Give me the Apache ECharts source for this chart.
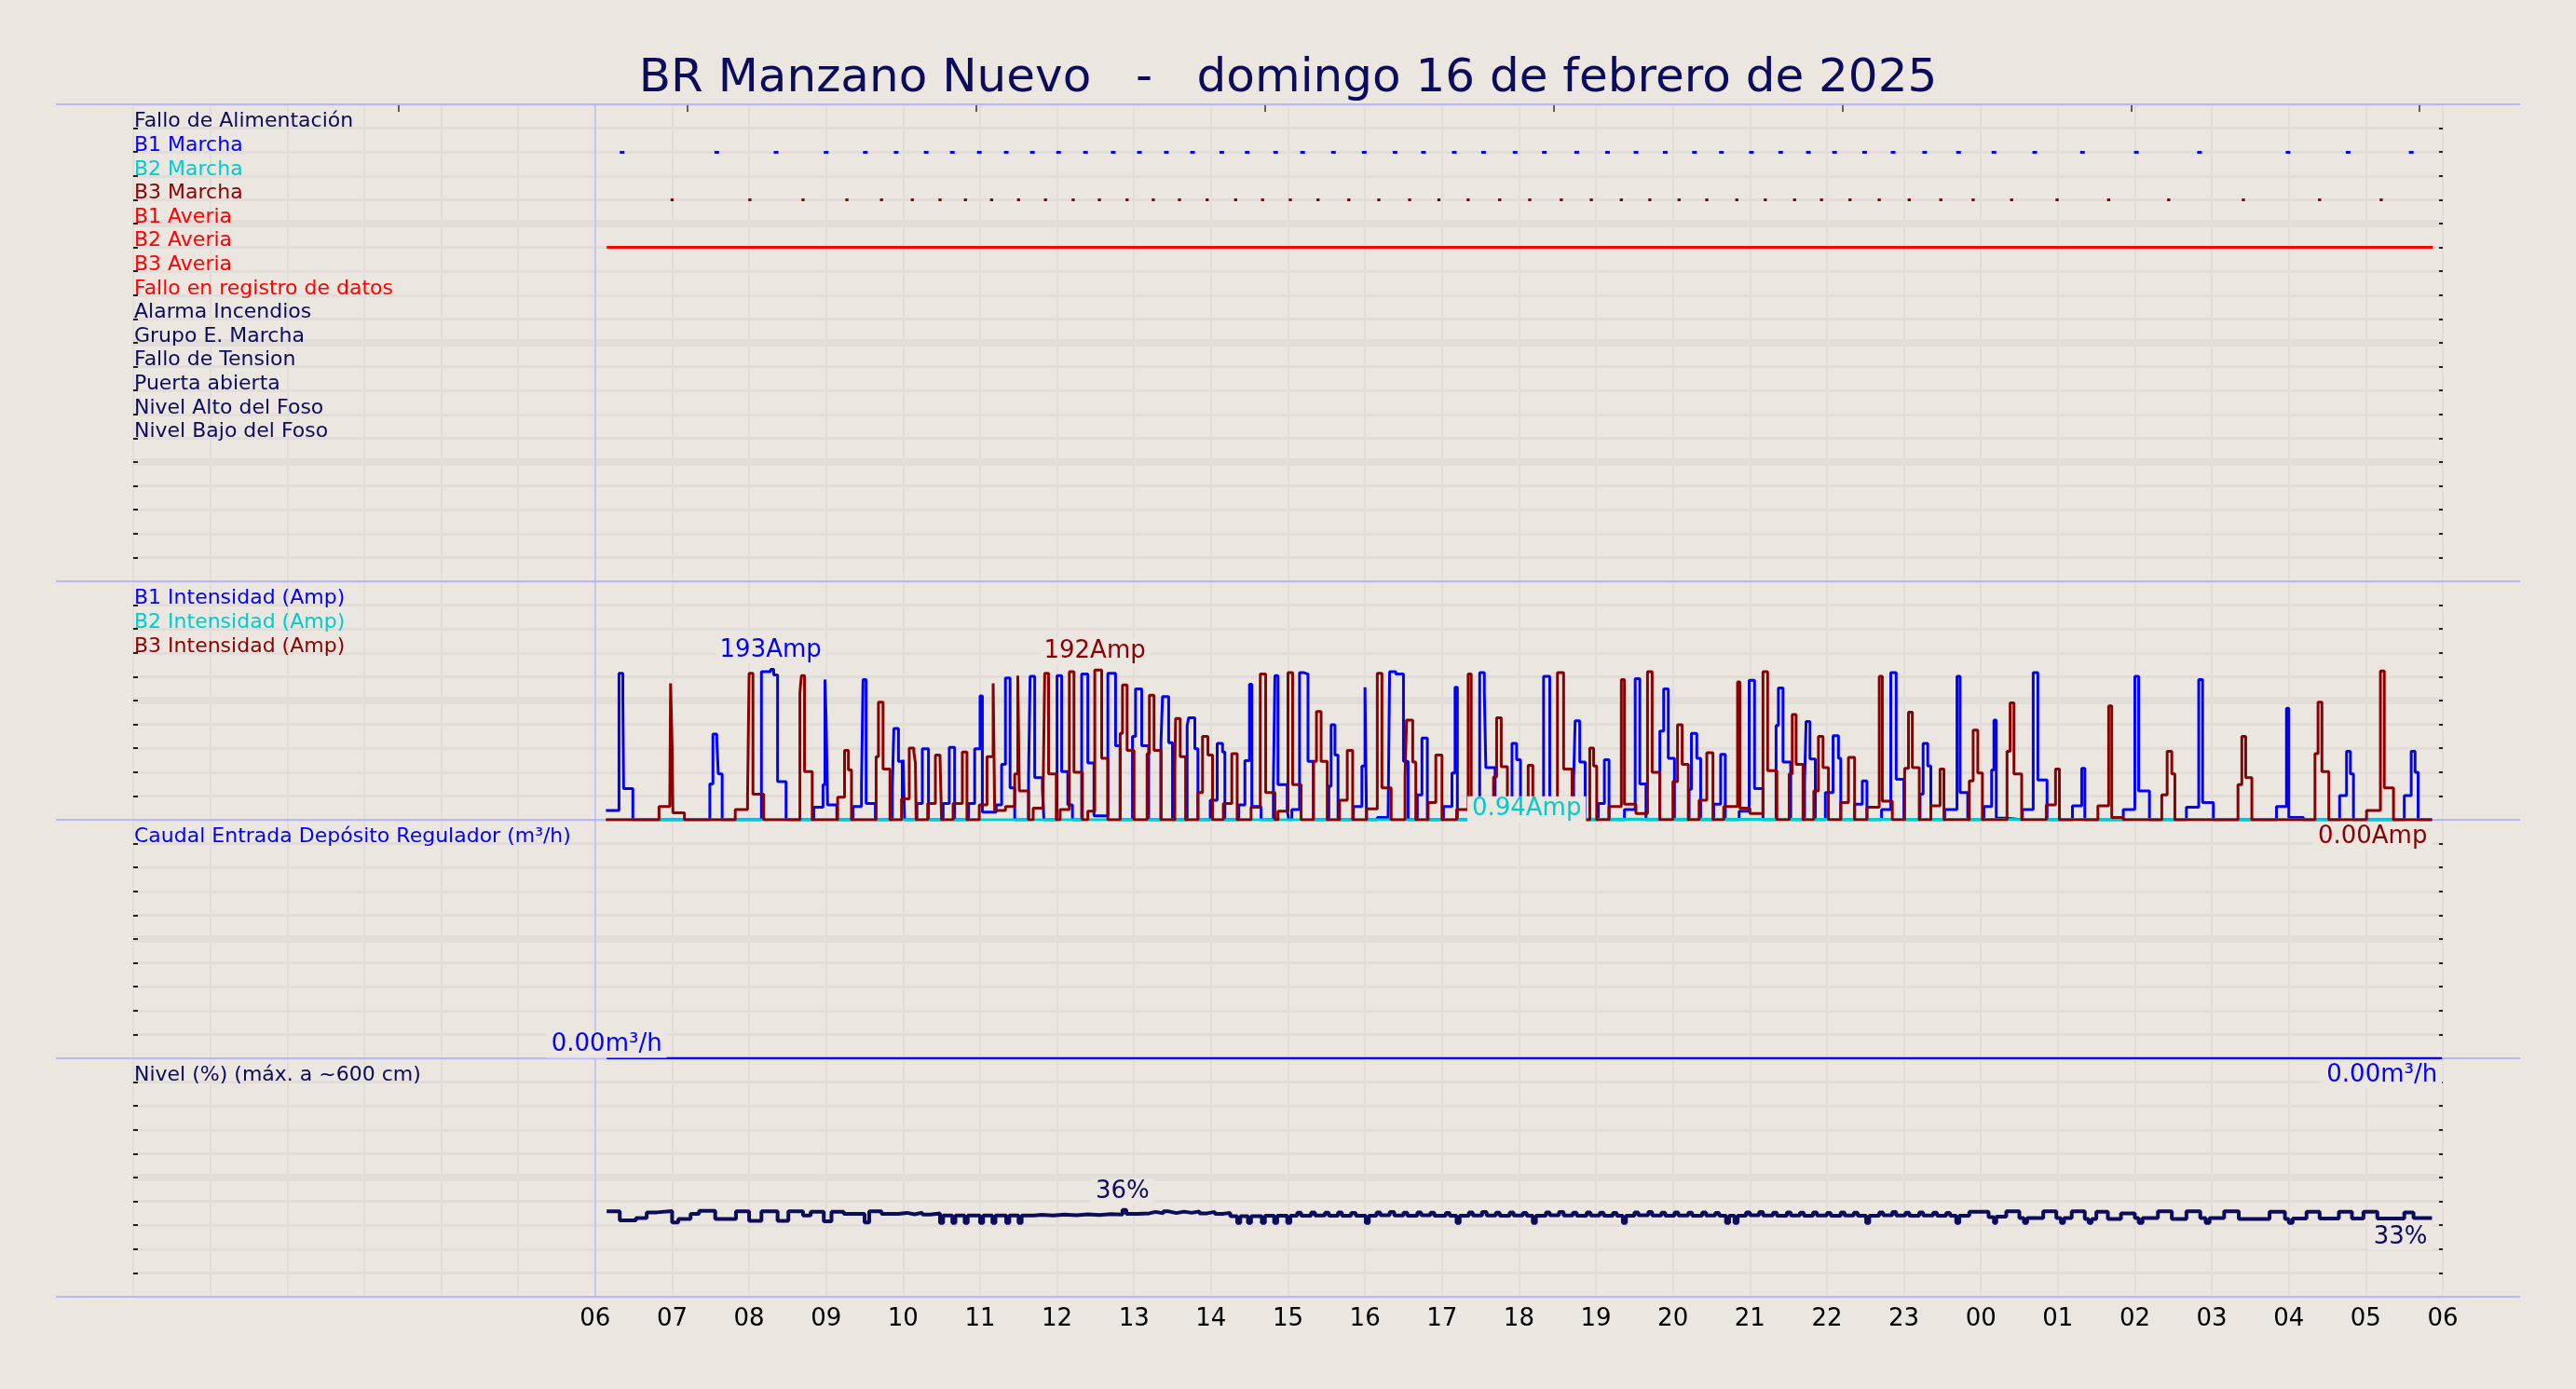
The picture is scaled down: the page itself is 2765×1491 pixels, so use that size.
<!DOCTYPE html>
<html><head><meta charset="utf-8">
<script src="https://cdn.jsdelivr.net/npm/echarts@6/dist/echarts.min.js"></script>
<style>html,body{margin:0;padding:0;background:#ebe6e0}#c{width:2765px;height:1491px}</style>
</head><body><div id="c"></div>
<script>
// ---------------- DATA ----------------
const chartTitle = 'BR Manzano Nuevo   -   domingo 16 de febrero de 2025';
const signalNames = ['Fallo de Alimentación','B1 Marcha','B2 Marcha','B3 Marcha','B1 Averia','B2 Averia','B3 Averia','Fallo en registro de datos','Alarma Incendios','Grupo E. Marcha','Fallo de Tension','Puerta abierta','Nivel Alto del Foso','Nivel Bajo del Foso'];
const ampNames = ['B1 Intensidad (Amp)','B2 Intensidad (Amp)','B3 Intensidad (Amp)'];
const flowName = ['Caudal Entrada Depósito Regulador (m³/h)'];
const levelName = ['Nivel (%) (máx. a ~600 cm)'];
const hourLabels = ['06','07','08','09','10','11','12','13','14','15','16','17','18','19','20','21','22','23','00','01','02','03','04','05','06'];
const topTickHours = [3.45, 7.2, 10.95, 14.7, 18.45, 22.2, 25.95, 29.7];

// digital signals: on-periods [start, end] in hours since 00:00
const b1MarchaOn = [[6.32,6.38],[7.55,7.61],[8.32,8.38],[8.97,9.03],[9.48,9.54],[9.88,9.94],[10.27,10.33],[10.61,10.67],[10.96,11.02],[11.31,11.37],[11.65,11.71],[11.99,12.05],[12.34,12.40],[12.70,12.76],[13.04,13.10],[13.39,13.45],[13.73,13.79],[14.11,14.17],[14.44,14.50],[14.81,14.87],[15.16,15.22],[15.56,15.62],[15.96,16.02],[16.36,16.42],[16.73,16.79],[17.13,17.19],[17.51,17.57],[17.92,17.98],[18.30,18.36],[18.72,18.78],[19.12,19.18],[19.49,19.55],[19.87,19.93],[20.25,20.31],[20.60,20.66],[20.99,21.05],[21.37,21.43],[21.73,21.79],[22.07,22.13],[22.46,22.52],[22.83,22.89],[23.24,23.30],[23.68,23.74],[24.14,24.20],[24.67,24.73],[25.29,25.35],[25.99,26.05],[26.81,26.87],[27.96,28.02],[28.74,28.80],[29.56,29.62]];
const b3MarchaOn = [[6.98,7.02],[7.99,8.03],[8.68,8.72],[9.25,9.29],[9.70,9.74],[10.10,10.14],[10.46,10.50],[10.79,10.83],[11.13,11.17],[11.48,11.52],[11.83,11.87],[12.19,12.23],[12.53,12.57],[12.89,12.93],[13.23,13.27],[13.57,13.61],[13.93,13.97],[14.30,14.34],[14.65,14.69],[15.01,15.05],[15.37,15.41],[15.77,15.81],[16.16,16.20],[16.56,16.60],[16.94,16.98],[17.32,17.36],[17.73,17.77],[18.12,18.16],[18.53,18.57],[18.92,18.96],[19.31,19.35],[19.68,19.72],[20.06,20.10],[20.42,20.46],[20.81,20.85],[21.18,21.22],[21.56,21.60],[21.91,21.95],[22.28,22.32],[22.66,22.70],[23.05,23.09],[23.46,23.50],[23.88,23.92],[24.38,24.42],[24.97,25.01],[25.64,25.68],[26.42,26.46],[27.39,27.43],[28.38,28.42],[29.18,29.22]];
const b2AveriaOn = [[6.15,29.87]];

// pump currents (Amp), step values [hour, amps]
const b1Amps = [[6.14,12],[6.31,188],[6.36,155],[6.37,40],[6.49,0],
[7.49,46],[7.53,110],[7.58,102],[7.60,59],[7.65,0],
[8.16,190],[8.28,193],[8.32,186],[8.37,49],[8.48,0],
[8.84,16],[8.96,45],[8.985,180],[9.0,130],[9.02,19],[9.14,0],
[9.35,17],[9.46,46],[9.48,180],[9.52,21],[9.64,0],
[9.86,39],[9.88,117],[9.94,75],[9.99,27],[10.0,77],[10.02,0],
[10.18,21],[10.25,91],[10.33,0],
[10.52,21],[10.6,93],[10.67,0],
[10.85,21],[10.93,91],[11.0,159],[11.03,10],[11.21,19],[11.28,71],[11.33,182],[11.39,41],[11.45,0],
[11.63,55],[11.65,184],[11.71,54],[11.81,38],[11.83,0],
[12.0,185],[12.06,62],[12.14,19],[12.2,0],
[12.32,187],[12.4,73],[12.48,5],[12.66,188],[12.76,95],[12.82,0],
[12.98,107],[13.02,168],[13.1,95],[13.19,0],
[13.35,99],[13.37,158],[13.45,99],[13.5,0],
[13.69,121],[13.71,131],[13.79,91],[13.83,0],
[13.99,25],[14.08,98],[14.15,87],[14.18,0],
[14.36,19],[14.44,76],[14.5,174],[14.53,17],[14.65,0],
[14.81,45],[14.83,185],[14.87,45],[14.99,13],[15.01,0],[15.05,13],[15.15,189],[15.2,187],[15.26,75],[15.33,0],
[15.53,43],[15.56,122],[15.61,83],[15.65,0],
[15.85,17],[15.96,69],[16.0,170],[16.02,0],[16.16,3],[16.3,0],
[16.32,190],[16.4,187],[16.5,75],[16.56,0],
[16.68,32],[16.74,105],[16.81,0],
[17.02,17],[17.13,60],[17.17,170],[17.2,0],
[17.36,2],[17.49,189],[17.55,165],[17.57,67],[17.69,0],
[17.91,98],[17.97,77],[18.02,0],
[18.32,184],[18.4,0],
[18.71,51],[18.73,127],[18.79,74],[18.86,0],
[19.03,21],[19.11,77],[19.17,0],
[19.37,13],[19.51,181],[19.57,46],[19.65,0],
[19.83,114],[19.88,168],[19.94,79],[20.02,0],
[20.21,39],[20.24,111],[20.31,79],[20.36,0],
[20.53,20],[20.62,84],[20.68,0],
[20.86,11],[20.99,179],[21.06,40],[21.17,0],
[21.34,121],[21.37,169],[21.43,74],[21.53,0],
[21.71,49],[21.73,126],[21.78,78],[21.85,0],
[21.98,35],[22.08,108],[22.15,79],[22.18,0],
[22.36,20],[22.46,50],[22.52,0],
[22.71,13],[22.83,189],[22.9,52],[23.0,0],
[23.21,33],[23.25,98],[23.31,69],[23.35,0],
[23.53,13],[23.69,184],[23.73,35],[23.83,0],
[24.04,17],[24.14,64],[24.17,128],[24.2,2],[24.34,0],
[24.54,13],[24.68,189],[24.74,51],[24.86,0],
[25.19,18],[25.31,66],[25.35,0],
[25.85,13],[26.0,184],[26.05,37],[26.19,0],
[26.67,16],[26.83,180],[26.88,22],[27.02,0],
[27.84,17],[27.97,143],[28.0,3],[28.19,0],
[28.66,31],[28.75,88],[28.8,59],[28.84,0],
[29.5,31],[29.59,88],[29.64,61],[29.68,0],[29.86,0]];
const b2Amps = [[6.14,0],[18.1,0.94],[18.3,0],[29.86,0]];
const b3Amps = [[6.14,0],[6.83,17],[6.97,23],[6.98,175],[7.0,95],[7.01,9],[7.16,0],
[7.82,13],[7.98,31],[8.0,188],[8.05,33],[8.19,0],
[8.66,163],[8.67,175],[8.68,185],[8.72,62],[8.82,0],
[9.15,29],[9.24,89],[9.29,64],[9.33,0],
[9.65,81],[9.68,151],[9.74,65],[9.83,0],
[9.98,27],[10.08,92],[10.14,87],[10.16,73],[10.17,0],
[10.32,21],[10.42,83],[10.48,79],[10.5,0],
[10.65,21],[10.77,87],[10.83,0],
[10.99,19],[11.09,81],[11.17,175],[11.19,12],[11.33,17],[11.45,59],[11.49,185],[11.51,37],[11.63,0],
[11.69,15],[11.82,43],[11.84,188],[11.89,59],[11.99,0],
[12.04,13],[12.16,190],[12.22,61],[12.33,0],
[12.40,11],[12.49,192],[12.58,79],[12.66,0],
[12.82,111],[12.85,173],[12.91,89],[13.0,0],
[13.17,85],[13.2,160],[13.26,89],[13.35,0],
[13.53,67],[13.54,130],[13.60,81],[13.67,0],
[13.83,35],[13.89,107],[13.96,83],[14.02,0],
[14.16,21],[14.27,85],[14.34,0],
[14.52,16],[14.64,187],[14.71,35],[14.83,0],
[14.87,11],[15.0,189],[15.06,45],[15.17,0],
[15.33,75],[15.37,139],[15.43,75],[15.51,0],
[15.67,25],[15.77,89],[15.84,0],
[16.02,14],[16.16,188],[16.22,41],[16.34,0],
[16.52,55],[16.54,128],[16.62,74],[16.66,0],
[16.82,22],[16.92,83],[17.0,0],
[17.19,13],[17.34,187],[17.38,0],
[17.67,55],[17.71,131],[17.77,68],[17.85,0],
[18.12,70],[18.18,0],
[18.5,189],[18.58,65],[18.69,0],
[18.92,92],[18.97,69],[19.01,0],
[19.17,17],[19.33,180],[19.37,20],[19.52,8],[19.67,190],[19.73,61],[19.83,0],
[20.0,49],[20.06,122],[20.12,71],[20.2,0],
[20.34,25],[20.44,86],[20.52,0],
[20.66,17],[20.84,177],[20.87,15],[21.0,8],[21.17,190],[21.23,63],[21.35,0],
[21.51,59],[21.55,135],[21.6,71],[21.69,0],
[21.83,37],[21.89,107],[21.95,67],[22.02,0],
[22.18,22],[22.28,80],[22.36,0],
[22.52,16],[22.68,184],[22.72,24],[22.85,0],
[23.01,66],[23.06,138],[23.11,67],[23.2,0],
[23.35,18],[23.47,65],[23.52,0],
[23.85,50],[23.9,115],[23.96,60],[24.02,0],
[24.34,88],[24.38,150],[24.43,59],[24.53,0],
[24.85,19],[24.97,65],[25.02,0],
[25.52,18],[25.66,146],[25.7,3],[25.85,0],
[26.35,32],[26.42,88],[26.48,59],[26.52,0],
[27.34,45],[27.39,107],[27.44,54],[27.52,0],
[28.34,85],[28.38,151],[28.43,62],[28.52,0],
[29.01,12],[29.19,191],[29.24,41],[29.36,0],[29.86,0]];

// inflow (m3/h)
const flowM3h = [[6.15,0],[29.99,0]];

// level (%)
const levelPct = [[6.15,35.8],[6.32,32.0],[6.53,33.0],[6.67,35.4],[6.80,35.9],[7.0,31.2],[7.08,32.6],[7.24,34.8],[7.35,36.0],[7.56,32.6],[7.83,35.8],[8.0,31.8],[8.16,35.8],[8.37,31.8],[8.51,35.8],[8.70,34.1],[8.80,35.6],[8.97,31.6],[9.07,35.6],[9.23,34.8],[9.50,31.2],[9.56,35.8],[9.72,34.8],
[9.94,35.2],[10.05,34.6],[10.15,35.3],[10.25,34.5],[10.35,35.0],
[10.48,31.0],[10.52,34.1],[10.64,31.0],[10.68,34.1],[10.80,31.0],[10.84,34.1],[11.0,31.0],[11.04,34.1],[11.16,31.0],[11.2,34.1],[11.34,31.0],[11.38,34.1],[11.5,31.0],[11.54,34.1],
[11.7,34.4],[11.8,34.1],[11.95,34.5],[12.1,34.2],[12.25,34.6],[12.4,34.3],[12.55,34.7],[12.7,34.5],[12.85,36.4],[12.9,34.8],[13.05,35.0],[13.2,35.6],[13.28,35.0],[13.38,35.8],[13.45,35.1],[13.55,35.7],[13.65,35.2],[13.75,35.8],[13.85,35.0],[13.95,35.6],[14.05,34.8],[14.15,35.2],
[14.25,33.8],[14.34,31.0],[14.38,33.8],[14.48,31.0],[14.52,33.8],[14.66,31.0],[14.7,34.0],[14.82,31.0],[14.86,34.0],[14.99,31.0],[15.03,34.0],
[15.12,35.3],[15.17,34.0],[15.3,35.4],[15.35,34.1],[15.48,35.3],[15.53,34.0],[15.65,35.4],[15.7,34.0],[15.82,35.2],[15.88,34.0],[16.01,31.0],[16.05,34.0],[16.15,35.4],[16.2,34.2],[16.32,35.5],[16.38,34.1],[16.5,35.3],[16.55,34.0],[16.68,35.4],[16.73,34.2],[16.85,35.3],[16.9,34.0],[17.05,35.2],[17.1,34.0],[17.19,31.0],[17.23,34.0],[17.35,35.4],[17.4,34.1],[17.52,35.5],[17.58,34.1],[17.7,35.3],[17.75,34.0],[17.88,35.4],[17.93,34.1],[18.05,35.2],[18.1,34.0],[18.18,31.0],[18.22,34.0],[18.35,35.4],[18.4,34.2],[18.52,35.5],[18.58,34.1],[18.7,35.3],[18.75,34.0],[18.88,35.4],[18.93,34.1],[19.05,35.3],[19.1,34.0],[19.22,35.2],[19.27,34.0],[19.35,31.0],[19.39,34.0],[19.5,35.4],[19.55,34.2],[19.68,35.5],[19.73,34.1],[19.85,35.3],[19.9,34.0],[20.02,35.4],[20.07,34.1],[20.2,35.3],[20.25,34.0],[20.38,35.4],[20.43,34.1],[20.55,35.2],[20.6,34.0],[20.69,31.0],[20.73,34.0],[20.8,31.0],[20.84,34.0],[20.95,35.4],[21.0,34.2],[21.12,35.5],[21.17,34.1],[21.3,35.3],[21.35,34.0],[21.48,35.4],[21.53,34.1],[21.65,35.3],[21.7,34.0],[21.82,35.4],[21.87,34.1],[22.0,35.2],[22.05,34.0],[22.18,35.4],[22.23,34.1],[22.35,35.3],[22.4,34.0],[22.51,31.0],[22.55,34.0],[22.68,35.4],[22.73,34.2],[22.85,35.5],[22.9,34.1],[23.02,35.3],[23.07,34.0],[23.2,35.4],[23.25,34.1],[23.38,35.3],[23.43,34.0],[23.55,35.2],[23.6,34.0],[23.68,31.0],[23.72,34.0],
[23.85,35.6],[24.1,33.4],[24.17,31.0],[24.2,33.6],[24.33,35.8],[24.5,33.0],[24.56,31.0],[24.6,33.0],[24.81,35.8],[24.98,33.0],[25.04,31.0],[25.08,33.0],[25.18,35.8],[25.35,32.6],[25.4,31.0],[25.44,32.6],[25.5,35.6],[25.65,32.6],[25.82,35.0],[26.0,33.0],[26.05,31.0],[26.1,33.0],[26.3,35.8],[26.48,32.6],[26.67,35.8],[26.85,33.0],[26.92,31.0],[26.97,33.0],[27.16,35.8],[27.35,32.6],[27.75,35.6],[27.95,32.6],[28.0,31.0],[28.05,32.8],[28.23,35.6],[28.4,32.8],[28.65,35.6],[28.82,32.8],[28.97,35.6],[29.15,32.8],[29.5,35.4],[29.62,33.0],[29.86,33.0]];

// ---------------- STYLE ----------------
const BG = '#ebe6e0';
const GRIDC = '#e2ddd9';
const SEP = '#b8b8f4';
const NAVY = '#0c0c5c';
const BLUE = '#0000ff', CYAN = '#00cccc', DRED = '#8b0000', RED = '#ff0000';
const FONT = 'DejaVu Sans';
const signalColors = [NAVY, BLUE, CYAN, DRED, RED, RED, RED, RED, NAVY, NAVY, NAVY, NAVY, NAVY, NAVY];

const panels = [{top:112, h:512, n:20}, {top:624, h:256, n:10}, {top:880, h:256, n:10}, {top:1136, h:256, n:10}];
const LEFT = 143, RIGHT = 143, XMAX = 30;

const splitColors = [];
for (let i = 0; i <= XMAX; i++) splitColors.push(i === 6 ? '#c6c6ee' : GRIDC);

const grid = panels.map(p => ({left: LEFT, right: RIGHT, top: p.top, height: p.h, show: true, backgroundColor: BG, borderWidth: 0}));

const xAxis = panels.map((p, i) => ({
  type: 'value', gridIndex: i, min: 0, max: XMAX, interval: 1,
  position: i === 0 ? 'top' : 'bottom',
  axisLine: {show: false},
  axisTick: {show: false},
  splitLine: {show: true, lineStyle: {color: splitColors, width: 2}},
  axisLabel: i === 3 ? {show: true, margin: 11, fontSize: 26, fontFamily: FONT, color: '#000',
      formatter: v => (v >= 6 && hourLabels[v - 6]) ? hourLabels[v - 6] : ''} : {show: false}
}));
// extra top axis on the first panel carrying only the small top tick marks
xAxis.push({type: 'value', gridIndex: 0, min: 0, max: XMAX, position: 'top',
  axisLine: {show: false}, splitLine: {show: false}, axisLabel: {show: false},
  axisTick: {show: true, inside: true, length: 8, customValues: topTickHours, lineStyle: {color: '#333', width: 1.5}}});

function labelAxis(gi, n, names, colors) {
  const rich = {};
  names.forEach((nm, k) => { rich['c' + k] = {color: colors[k], fontSize: 22, fontFamily: FONT}; });
  return {
    type: 'value', gridIndex: gi, min: 0, max: n, interval: 1, inverse: true, position: 'left',
    axisLine: {show: false},
    axisTick: {show: true, inside: true, length: 5, lineStyle: {color: '#222', width: 2}},
    splitLine: {show: true, lineStyle: {color: GRIDC, width: 3}},
    axisLabel: {show: true, inside: true, margin: 1, align: 'left', verticalAlign: 'bottom', padding: [0,0,-4,0],
      formatter: v => (v >= 1 && names[v - 1]) ? '{c' + (v - 1) + '|' + names[v - 1] + '}' : '', rich: rich}
  };
}
function thickAxis(gi, n) {
  return {type: 'value', gridIndex: gi, min: 0, max: n, interval: 5, inverse: true, position: 'left',
    axisLine: {show: false}, axisTick: {show: false}, axisLabel: {show: false},
    splitLine: {show: true, showMinLine: false, showMaxLine: false, lineStyle: {color: GRIDC, width: 8}}};
}
function rightTickAxis(gi, n) {
  return {type: 'value', gridIndex: gi, min: 0, max: n, interval: 1, position: 'right',
    axisLine: {show: false}, axisLabel: {show: false}, splitLine: {show: false},
    axisTick: {show: true, inside: true, length: 4, lineStyle: {color: '#222', width: 2}}};
}
function dataAxis(gi, max) {
  return {type: 'value', gridIndex: gi, min: 0, max: max, show: false};
}
const yAxis = [
  labelAxis(0, 20, signalNames, signalColors), thickAxis(0, 20), rightTickAxis(0, 20),
  labelAxis(1, 10, ampNames, [BLUE, CYAN, DRED]), thickAxis(1, 10), rightTickAxis(1, 10), dataAxis(1, 306),
  labelAxis(2, 10, flowName, [BLUE]), thickAxis(2, 10), rightTickAxis(2, 10), dataAxis(2, 10),
  labelAxis(3, 10, levelName, [NAVY]), thickAxis(3, 10), rightTickAxis(3, 10), dataAxis(3, 100)
];

// helpers
function segs(list, level) { return list.map(([s, e]) => ({coords: [[s, level], [e, level]]})); }
function maxPoint(arr) { let b = arr[0]; arr.forEach(p => { if (p[1] > b[1]) b = p; }); return b; }
function lastPoint(arr) { return arr[arr.length - 1]; }
function lbl(color, text, pos, align, dist) {
  return {show: true, position: pos, align: align, distance: dist, formatter: text, color: color,
    fontSize: 26, fontFamily: FONT, backgroundColor: BG, padding: [1, 5]};
}
function mp(point, label) {
  return {coord: point, value: point[1], symbol: 'circle', symbolSize: 1, itemStyle: {color: 'rgba(0,0,0,0)'}, label: label};
}
const fmtAmp = v => (v >= 10 ? Math.round(v) : v.toFixed(2)) + 'Amp';

function stepLine(name, data, color, width, xi, yi, marks) {
  return {type: 'line', name: name, data: data, step: 'end', xAxisIndex: xi, yAxisIndex: yi,
    showSymbol: false, symbol: 'none', lineStyle: {color: color, width: width}, itemStyle: {color: color},
    markPoint: marks ? {silent: true, data: marks} : undefined};
}

const b1Max = maxPoint(b1Amps), b2Max = maxPoint(b2Amps), b3Max = maxPoint(b3Amps);
const flowMax = maxPoint(flowM3h), lvlMax = maxPoint(levelPct);

const series = [
  {type: 'lines', name: signalNames[1], coordinateSystem: 'cartesian2d', xAxisIndex: 0, yAxisIndex: 0, polyline: false,
    data: segs(b1MarchaOn, 2), lineStyle: {color: BLUE, width: 3.2, opacity: 1}},
  {type: 'lines', name: signalNames[3], coordinateSystem: 'cartesian2d', xAxisIndex: 0, yAxisIndex: 0, polyline: false,
    data: segs(b3MarchaOn, 4), lineStyle: {color: DRED, width: 3.2, opacity: 1}},
  {type: 'lines', name: signalNames[5], coordinateSystem: 'cartesian2d', xAxisIndex: 0, yAxisIndex: 0, polyline: false,
    data: segs(b2AveriaOn, 6), lineStyle: {color: RED, width: 3, opacity: 1}},
  stepLine(ampNames[0], b1Amps, BLUE, 3, 1, 6, [mp(b1Max, lbl(BLUE, fmtAmp(b1Max[1]), 'top', 'center', 6))]),
  stepLine(ampNames[1], b2Amps, CYAN, 3, 1, 6, [mp(b2Max, lbl(CYAN, fmtAmp(b2Max[1]), 'top', 'center', -4))]),
  stepLine(ampNames[2], b3Amps, DRED, 3, 1, 6, [mp(b3Max, lbl(DRED, fmtAmp(b3Max[1]), 'top', 'center', 6)),
      mp(lastPoint(b3Amps), lbl(DRED, fmtAmp(lastPoint(b3Amps)[1]), 'bottom', 'right', 4))]),
  stepLine(flowName[0], flowM3h, BLUE, 2.4, 2, 10, [mp(flowMax, lbl(BLUE, flowMax[1].toFixed(2) + 'm³/h', 'top', 'center', 0)),
      mp(lastPoint(flowM3h), lbl(BLUE, lastPoint(flowM3h)[1].toFixed(2) + 'm³/h', 'bottom', 'right', 4))]),
  stepLine(levelName[0], levelPct, NAVY, 4, 3, 14, [mp(lvlMax, lbl(NAVY, Math.round(lvlMax[1]) + '%', 'top', 'center', 5)),
      mp(lastPoint(levelPct), lbl(NAVY, Math.round(lastPoint(levelPct)[1]) + '%', 'bottom', 'right', 6))])
];

const sepYs = [112, 624, 880, 1136, 1392];
const graphic = sepYs.map(y => ({type: 'line', z: 1, silent: true, shape: {x1: 60, y1: y, x2: 2705, y2: y}, style: {stroke: SEP, lineWidth: 2}}));

const chart = echarts.init(document.getElementById('c'), null, {renderer: 'canvas', width: 2765, height: 1491});
chart.setOption({
  backgroundColor: BG,
  animation: false,
  title: {text: chartTitle, left: 'center', top: 55, textStyle: {fontFamily: FONT, fontSize: 50, fontWeight: 'normal', color: NAVY}},
  grid: grid, xAxis: xAxis, yAxis: yAxis, series: series, graphic: graphic
});
</script></body></html>
